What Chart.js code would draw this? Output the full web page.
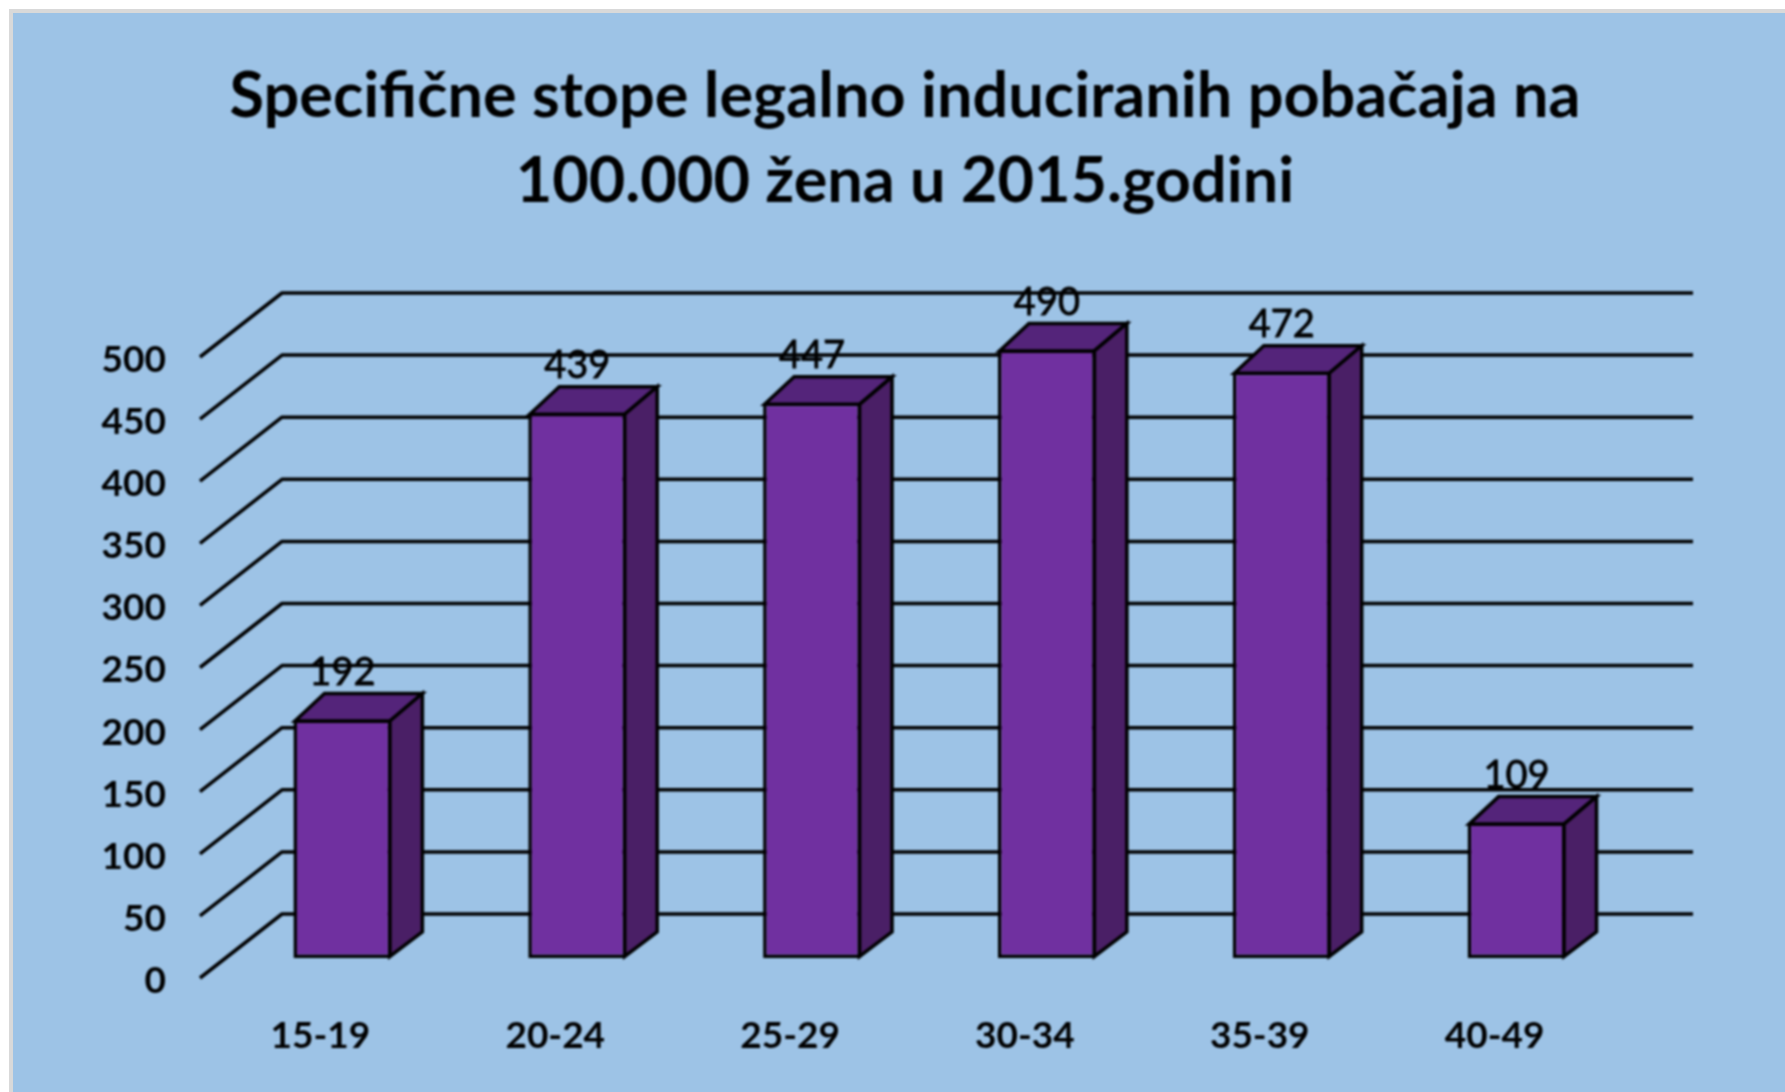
<!DOCTYPE html>
<html>
<head>
<meta charset="utf-8">
<title>Specifične stope</title>
<script src="https://cdn.jsdelivr.net/npm/chart.js@4/dist/chart.umd.min.js"></script>
<style>
html, body { margin: 0; padding: 0; background: #fff; overflow: hidden; }
#frame { position: absolute; left: 9px; top: 9px; right: 0; bottom: 0; background: #9DC3E6; border-left: 4px solid #d9d9d9; border-top: 4px solid #d9d9d9; }
#grafico { position: absolute; left: 0; top: 0; filter: blur(0.8px); }
</style>
</head>
<body>
<div id="frame"></div>
<canvas id="grafico" width="1785" height="1092"></canvas>
<script>
var titleLines = ["Specifične stope legalno induciranih pobačaja na", "100.000 žena u 2015.godini"];
var ageGroups = ["15-19", "20-24", "25-29", "30-34", "35-39", "40-49"];
var rates = [192, 439, 447, 490, 472, 109];

var fontName = "Lato, 'Open Sans', sans-serif";

// fake 3d offsets, px
var wall = { dx: 57, dy: -44 };
var front = { dx: -25, dy: 20 };
var barDepth = { dx: 31, dy: -26 };

var fake3d = {
  id: "fake3d",
  beforeDatasetsDraw: function (chart) {
    var c = chart.ctx, area = chart.chartArea, y = chart.scales.y;
    c.save();
    c.strokeStyle = "#000";
    c.lineWidth = 3.5;
    c.lineJoin = "round";
    y.ticks.forEach(function (t) {
      var py = y.getPixelForValue(t.value);
      c.beginPath();
      c.moveTo(area.left + front.dx, py + front.dy);
      c.lineTo(area.left + wall.dx, py + wall.dy);
      c.lineTo(area.right + wall.dx + 2, py + wall.dy);
      c.stroke();
    });
    c.restore();
  },
  afterDatasetsDraw: function (chart) {
    var c = chart.ctx;
    var bars = chart.getDatasetMeta(0).data;
    c.save();
    c.strokeStyle = "#000";
    c.lineWidth = 3.5;
    c.lineJoin = "miter";
    bars.forEach(function (b, i) {
      var l = b.x - b.width / 2, r = b.x + b.width / 2;
      // top
      c.fillStyle = "#54247A";
      c.beginPath();
      c.moveTo(l + 1.5, b.y + 1.5);
      c.lineTo(l + barDepth.dx, b.y + barDepth.dy);
      c.lineTo(r + barDepth.dx, b.y + barDepth.dy);
      c.lineTo(r - 1.5, b.y + 1.5);
      c.closePath();
      c.fill();
      c.stroke();
      // side
      c.fillStyle = "#4A1F66";
      c.beginPath();
      c.moveTo(r - 1.5, b.y + 1.5);
      c.lineTo(r + barDepth.dx, b.y + barDepth.dy);
      c.lineTo(r + barDepth.dx, b.base + barDepth.dy);
      c.lineTo(r - 1.5, b.base - 1.5);
      c.closePath();
      c.fill();
      c.stroke();
    });
    // values go over everything
    c.fillStyle = "#000";
    c.lineWidth = 0.8;
    c.font = "38px " + fontName;
    c.textAlign = "center";
    c.textBaseline = "middle";
    bars.forEach(function (b, i) {
      c.fillText(String(rates[i]), b.x, b.y - 47);
      c.strokeText(String(rates[i]), b.x, b.y - 47);
    });
    c.restore();
  }
};

var ctx = document.getElementById("grafico");
var ChartGraph = new Chart(ctx, {
  type: "bar",
  data: {
    labels: ageGroups,
    datasets: [{
      data: rates,
      backgroundColor: "#7030A0",
      borderColor: "#000",
      borderWidth: 3.5,
      borderSkipped: false,
      barPercentage: 0.417,
      categoryPercentage: 1
    }]
  },
  options: {
    responsive: false,
    animation: false,
    layout: { padding: { left: 27, top: 54, right: 2, bottom: 0 } },
    plugins: {
      legend: { display: false },
      tooltip: { enabled: false },
      title: {
        display: true,
        text: titleLines,
        color: "#000",
        font: { family: fontName, size: 63, weight: "bold", lineHeight: 85 / 63 },
        padding: { top: 0, bottom: 113 }
      }
    },
    scales: {
      x: {
        grid: { display: false },
        border: { display: false },
        ticks: { color: "#000", font: { family: fontName, size: 37, weight: "bold" }, padding: 48, labelOffset: -22, maxRotation: 0, autoSkip: false },
        afterFit: function (s) { s.height = 134; }
      },
      y: {
        min: 0,
        max: 500,
        grid: { display: false },
        border: { display: false },
        ticks: { stepSize: 50, color: "#000", font: { family: fontName, size: 37, weight: "bold" }, padding: 51, labelOffset: 23 },
        afterFit: function (s) { s.width = 198; }
      },
      // empty axis, holds the room right of the plot so the title stays centred
      rightGap: {
        position: "right",
        grid: { display: false },
        border: { display: false },
        ticks: { display: false },
        afterFit: function (s) { s.width = 149; }
      }
    }
  },
  plugins: [fake3d]
});
</script>
</body>
</html>
